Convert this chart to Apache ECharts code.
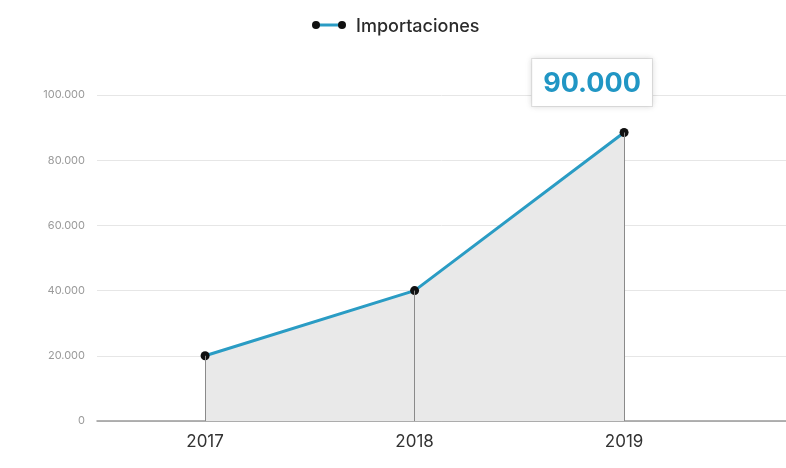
<!DOCTYPE html>
<html><head><meta charset="utf-8">
<script src="https://cdn.jsdelivr.net/npm/echarts@6/dist/echarts.min.js"></script>
<style>html,body{margin:0;padding:0;background:#fff}#c{width:786px;height:468px}</style>
</head><body><div id="c"></div>
<script>
const years = [2017, 2018, 2019];
const importaciones = [20000, 40000, 88500];
const highlightText = ['', '', '90.000'];

const fmt = v => String(v).replace(/\B(?=(\d{3})+(?!\d))/g, '.');
const chart = echarts.init(document.getElementById('c'));
chart.setOption({
  animation: false,
  legend: {
    top: 13, left: 312, itemWidth: 34, itemHeight: 10, itemGap: 8,
    icon: 'rect',
    itemStyle: { color: 'rgba(0,0,0,0)' },
    textStyle: { fontFamily: 'Inter', fontSize: 18, fontWeight: 500, color: '#2b2b2b' },
    data: ['Importaciones']
  },
  graphic: [{
    type: 'group', left: 312, top: 21,
    children: [
      { type: 'line', shape: { x1: 4, y1: 4, x2: 30, y2: 4 }, style: { stroke: '#2a9cc4', lineWidth: 3 } },
      { type: 'circle', shape: { cx: 4, cy: 4, r: 4 }, style: { fill: '#111' } },
      { type: 'circle', shape: { cx: 30, cy: 4, r: 4 }, style: { fill: '#111' } }
    ]
  }],
  grid: { left: 97, right: 0, top: 95, bottom: 47 },
  xAxis: {
    type: 'value', min: 2016.484, max: 2019.773,
    axisLine: { show: true, lineStyle: { color: '#999', width: 1.5 } },
    axisTick: { show: false },
    splitLine: { show: false },
    axisLabel: { customValues: years, formatter: v => String(Math.round(v)), fontFamily: 'Inter', fontSize: 17, color: '#333', margin: 12 }
  },
  yAxis: {
    type: 'value', min: 0, max: 100000, interval: 20000,
    axisLine: { show: false }, axisTick: { show: false },
    splitLine: { lineStyle: { color: '#e6e6e6', width: 1 } },
    axisLabel: { formatter: v => fmt(v), fontFamily: 'Inter', fontSize: 11, color: '#9a9a9a', margin: 12 }
  },
  series: [{
    name: 'Importaciones', type: 'line',
    data: years.map((y, i) => ({ value: [y, importaciones[i]], label: { show: highlightText[i] !== '' } })),
    symbol: 'circle', symbolSize: 9,
    itemStyle: { color: '#111' },
    lineStyle: { color: '#2a9cc4', width: 3 },
    areaStyle: { color: '#e9e9e9', opacity: 1 },
    label: {
      position: 'top', distance: 22, offset: [-32, 0],
      formatter: p => highlightText[p.dataIndex],
      backgroundColor: '#fff', borderColor: '#e3e3e3', borderWidth: 1,
      shadowColor: 'rgba(0,0,0,0.12)', shadowBlur: 6,
      padding: [11, 11, 9, 11],
      fontFamily: 'Inter', fontWeight: 'bold', fontSize: 27, color: '#2196c4'
    },
    markLine: {
      silent: true, symbol: 'none', label: { show: false },
      lineStyle: { color: '#8a8a8a', width: 1, type: 'solid' },
      data: years.map((y, i) => [{ coord: [y, 0] }, { coord: [y, importaciones[i]] }])
    },
    z: 3
  }]
});
</script></body></html>
